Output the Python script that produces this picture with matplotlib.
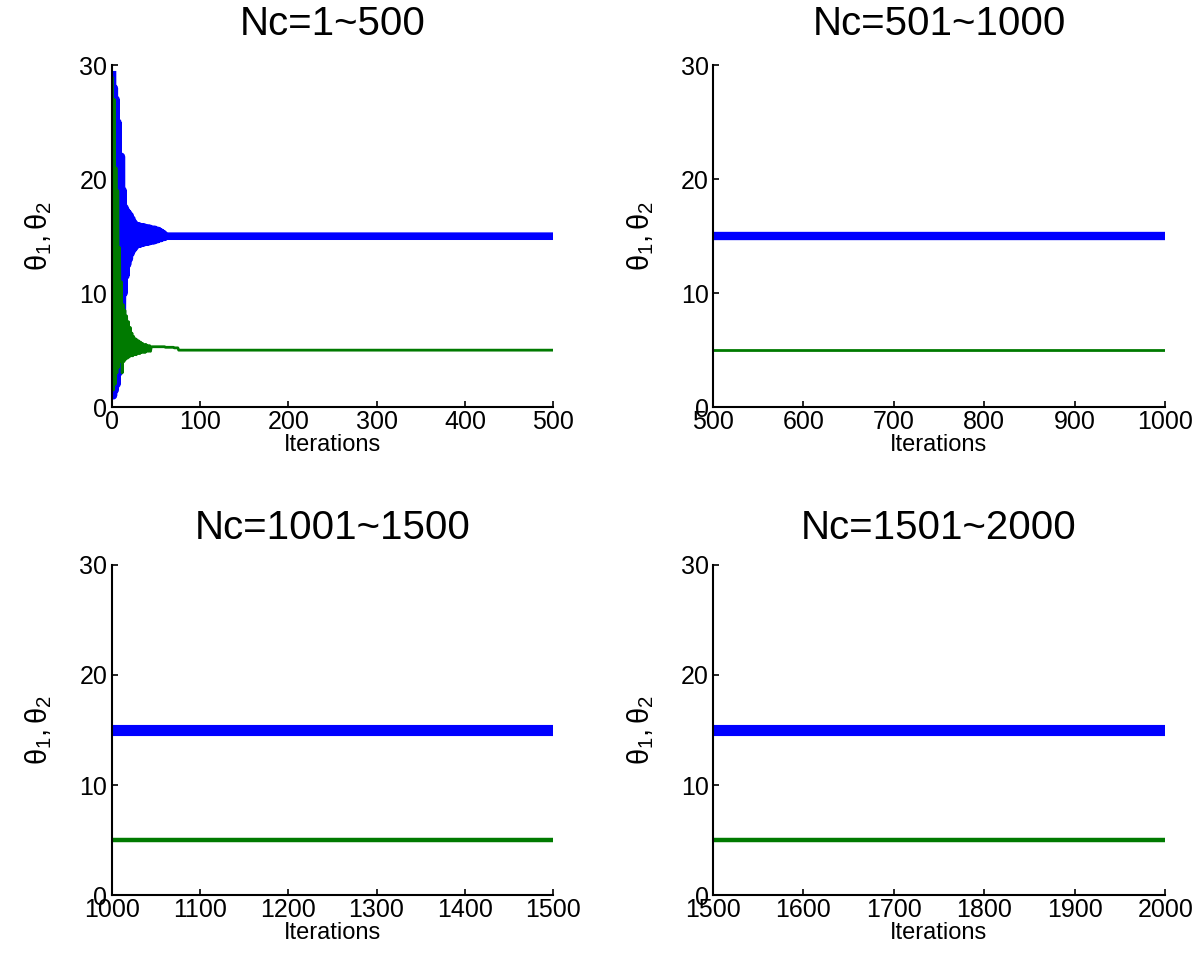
import numpy as np
import matplotlib
matplotlib.use('Agg')
import matplotlib.pyplot as plt

plt.rcParams['font.family'] = ['Liberation Sans', 'DejaVu Sans']
plt.rcParams['mathtext.fontset'] = 'custom'
plt.rcParams['mathtext.rm'] = 'Liberation Sans'
plt.rcParams['mathtext.it'] = 'Liberation Sans'

# valeurs
n_total = 2000
theta1_start = [29.5, 1.0, 28.0, 1.5, 27.0, 2.0, 25.0, 3.0, 22.0, 5.0,
                22.0, 7.0, 19.0, 10.0, 17.5, 11.5, 17.2, 12.5, 17.0, 13.0,
                16.8, 13.5, 16.5, 13.8, 16.2, 14.0, 16.0, 14.2, 15.9, 14.3,
                15.9, 14.3, 15.8, 14.4, 15.8, 14.4, 15.8, 14.5, 15.7, 14.5,
                15.7, 14.5, 15.7, 14.6, 15.6, 14.6, 15.6, 14.6, 15.6, 14.7,
                15.5, 14.7, 15.5, 14.8, 15.4, 14.8, 15.3, 14.9, 15.2, 14.9]
theta2_start = [29.0, 1.5, 27.0, 2.0, 21.0, 3.0, 19.0, 3.5, 14.0, 4.0,
                11.0, 3.0, 9.0, 4.0, 8.5, 4.2, 8.0, 4.3, 7.5, 4.4,
                7.0, 4.5, 6.5, 4.5, 6.2, 4.6, 6.0, 4.6, 5.9, 4.7,
                5.8, 4.7, 5.7, 4.8, 5.6, 4.8, 5.5, 4.8, 5.5, 4.9,
                5.4, 4.9, 5.4, 4.9, 5.3, 5.3, 5.3, 5.3, 5.3, 5.3,
                5.3, 5.3, 5.3, 5.3, 5.3, 5.3, 5.3, 5.3, 5.3, 5.3,
                5.25, 5.25, 5.25, 5.25, 5.25, 5.25, 5.25, 5.25, 5.25, 5.25,
                5.2, 5.2, 5.2, 5.2, 5.2]
theta1_final = 15.0
theta2_final = 5.0

titles = ['Nc=1~500', 'Nc=501~1000', 'Nc=1001~1500', 'Nc=1501~2000']
x_ranges = [(0, 500), (500, 1000), (1000, 1500), (1500, 2000)]

iters = np.arange(1, n_total + 1)
theta1 = np.concatenate([theta1_start, np.full(n_total - len(theta1_start), theta1_final)])
theta2 = np.concatenate([theta2_start, np.full(n_total - len(theta2_start), theta2_final)])

fig = plt.figure(figsize=(12, 9.74), dpi=100)
positions = [[0.093, 0.582, 0.368, 0.351],
             [0.594, 0.582, 0.377, 0.351],
             [0.093, 0.081, 0.368, 0.339],
             [0.594, 0.081, 0.377, 0.339]]
lw_blue = [5.5, 6, 8, 8]
lw_green = [2, 2, 3.2, 3.2]
title_pad = [22, 22, 19, 19]

for i in range(4):
    ax = fig.add_axes(positions[i])
    x0, x1 = x_ranges[i]
    m = (iters >= x0) & (iters <= x1)
    ax.plot(iters[m], theta1[m], color='#0000ff', lw=lw_blue[i], solid_capstyle='butt')
    ax.plot(iters[m], theta2[m], color='#007a00', lw=lw_green[i], solid_capstyle='butt')
    ax.set_xlim(x0, x1)
    ax.set_ylim(0, 30)
    ax.set_xticks(np.arange(x0, x1 + 1, 100))
    ax.set_yticks([0, 10, 20, 30])
    ax.spines['top'].set_visible(False)
    ax.spines['right'].set_visible(False)
    ax.spines['left'].set_linewidth(1.5)
    ax.spines['bottom'].set_linewidth(1.5)
    ax.tick_params(direction='in', length=4, width=1.2, labelsize=18, pad=3)
    ax.tick_params(axis='x', pad=2)
    ax.set_title(titles[i], fontsize=29, pad=title_pad[i])
    ax.set_xlabel('Iterations', fontsize=17, labelpad=0)
    ax.set_ylabel(r'$\theta_1, \theta_2$', fontsize=21, labelpad=18)

plt.savefig('out.png', dpi=100)
